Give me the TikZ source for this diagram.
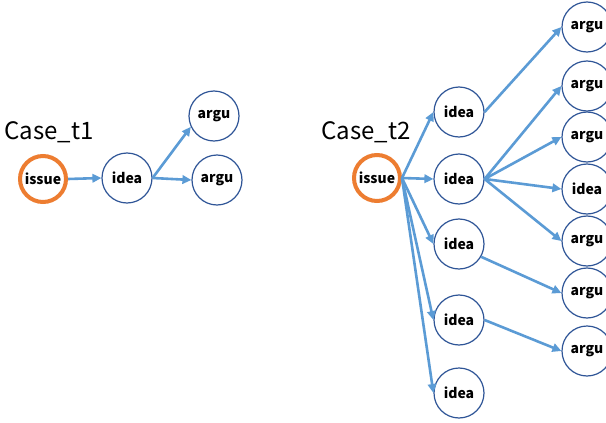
\documentclass[tikz,border=0pt]{standalone}
\usepackage{fontspec}
\setmainfont{Noto Sans CJK JP}
\usetikzlibrary{positioning,arrows.meta}
\definecolor{IssueOrange}{RGB}{237,125,49}
\definecolor{RingBlue}{RGB}{47,85,151}
\definecolor{FlowBlue}{RGB}{91,155,213}
\tikzset{
  flow/.style={-{Triangle[length=9pt,width=8.5pt]},line width=2.6pt,draw=FlowBlue},
  issuebox/.style={circle,draw=IssueOrange,line width=4pt,fill=white,inner sep=0pt,
    minimum size=46pt,font=\bfseries\fontsize{14}{16}\selectfont},
  topicbox/.style={circle,draw=RingBlue,line width=1.2pt,fill=white,inner sep=0pt,
    minimum size=50pt,font=\bfseries\fontsize{14}{16}\selectfont},
  caselabel/.style={inner sep=0pt,font=\fontsize{24}{28}\selectfont}
}
\begin{document}
\begin{tikzpicture}[x=1pt,y=-1pt]
  \useasboundingbox (0,0) rectangle (606,423);
  % first case
  \node[caselabel] (lb1) at (49,132) {Case\_t1};
  \node[issuebox] (is1) at (43,179) {issue};
  \node[topicbox] (id1) at (127,178) {idea};
  \node[topicbox] (ar1a) at (214,116) {argu};
  \node[topicbox] (ar1b) at (217,180) {argu};
  \draw[flow] (is1.east) -- (id1.west);
  \draw[flow] (id1.east) -- (ar1a.205);
  \draw[flow] (id1.east) -- (ar1b.west);
  % second case
  \node[caselabel] (lb2) at (366,132) {Case\_t2};
  \node[issuebox] (is2) at (377,178) {issue};
  \node[topicbox] (id2a) at (459,112) {idea};
  \node[topicbox] (id2b) at (459,179) {idea};
  \node[topicbox] (id2c) at (459,244) {idea};
  \node[topicbox] (id2d) at (459,320) {idea};
  \node[topicbox] (id2e) at (459,393) {idea};
  \node[topicbox] (ar2a) at (587,27) {argu};
  \node[topicbox] (ar2b) at (587,86) {argu};
  \node[topicbox] (ar2c) at (587,137) {argu};
  \node[topicbox] (id2f) at (587,189) {idea};
  \node[topicbox] (ar2d) at (587,241) {argu};
  \node[topicbox] (ar2e) at (587,293) {argu};
  \node[topicbox] (ar2f) at (587,351) {argu};
  \draw[flow] (is2.east) -- (id2a.west);
  \draw[flow] (is2.east) -- (id2b.west);
  \draw[flow] (is2.east) -- (id2c.west);
  \draw[flow] (is2.east) -- (id2d.west);
  \draw[flow] (is2.east) -- (id2e.west);
  \draw[flow] (id2a.east) -- (ar2a.west);
  \draw[flow] (id2b.east) -- (ar2b.west);
  \draw[flow] (id2b.east) -- (ar2c.west);
  \draw[flow] (id2b.east) -- (id2f.west);
  \draw[flow] (id2b.east) -- (ar2d.west);
  \draw[flow] (id2c.-30) -- (ar2e.west);
  \draw[flow] (id2d.east) -- (ar2f.west);
\end{tikzpicture}
\end{document}
